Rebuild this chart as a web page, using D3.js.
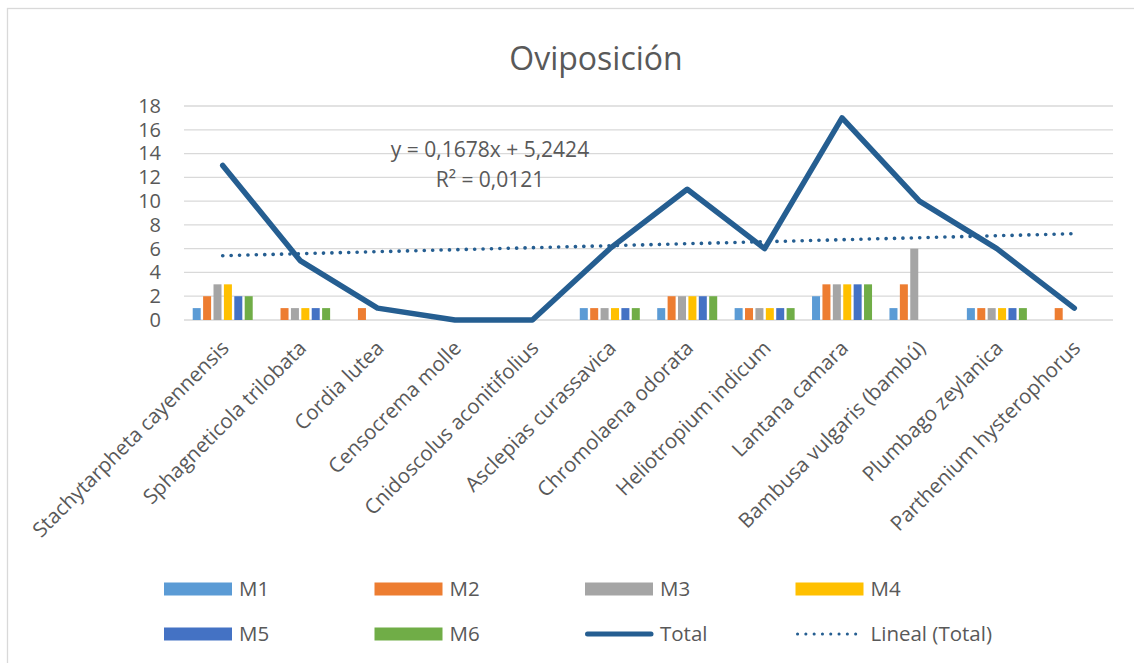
<!DOCTYPE html>
<html>
<head>
<meta charset="utf-8">
<script src="https://cdn.jsdelivr.net/npm/d3@7"></script>
<style>
  html, body { margin: 0; padding: 0; background: #fff; }
  svg { display: block; }
  text { font-family: "Open Sans", "Noto Sans", sans-serif; fill: #595959; }
</style>
</head>
<body>
<svg id="chart" width="1134" height="663"></svg>
<script>
const categories = [
  "Stachytarpheta cayennensis", "Sphagneticola trilobata", "Cordia lutea",
  "Censocrema molle", "Cnidoscolus aconitifolius", "Asclepias curassavica",
  "Chromolaena odorata", "Heliotropium indicum", "Lantana camara",
  "Bambusa vulgaris (bambú)", "Plumbago zeylanica", "Parthenium hysterophorus"
];
const seriesNames = ["M1", "M2", "M3", "M4", "M5", "M6"];
const M1 = [1, 0, 0, 0, 0, 1, 1, 1, 2, 1, 1, 0];
const M2 = [2, 1, 1, 0, 0, 1, 2, 1, 3, 3, 1, 1];
const M3 = [3, 1, 0, 0, 0, 1, 2, 1, 3, 6, 1, 0];
const M4 = [3, 1, 0, 0, 0, 1, 2, 1, 3, 0, 1, 0];
const M5 = [2, 1, 0, 0, 0, 1, 2, 1, 3, 0, 1, 0];
const M6 = [2, 1, 0, 0, 0, 1, 2, 1, 3, 0, 1, 0];
const total = [13, 5, 1, 0, 0, 6, 11, 6, 17, 10, 6, 1];
const trendSlope = 0.1678, trendIntercept = 5.2424;
const yTicks = [0, 2, 4, 6, 8, 10, 12, 14, 16, 18];
const title = "Oviposición";
const eqLine1 = "y = 0,1678x + 5,2424";
const eqLine2 = "R² = 0,0121";
const colors = ["#5b9bd5", "#ed7d31", "#a5a5a5", "#ffc000", "#4472c4", "#70ad47"];
const lineColor = "#255e91";

const seriesValues = [M1, M2, M3, M4, M5, M6];
const svg = d3.select("#chart");

// outer border
svg.append("rect").attr("x", 7.5).attr("y", 8.5).attr("width", 1140).attr("height", 680)
  .attr("fill", "none").attr("stroke", "#d9d9d9").attr("stroke-width", 1.3);

const pLeft = 184, pRight = 1113, pTop = 106, pBottom = 320;
const x = d3.scaleBand().domain(categories).range([pLeft, pRight]).paddingInner(0.225).paddingOuter(0.1125);
const x1 = d3.scaleBand().domain(seriesNames).range([0, x.bandwidth()]).paddingInner(0.23).paddingOuter(0);
const y = d3.scaleLinear().domain([0, 18]).range([pBottom, pTop]);
const cx = c => x(c) + x.bandwidth() / 2;

// gridlines
svg.append("g").selectAll("line").data(yTicks).join("line")
  .attr("x1", pLeft).attr("x2", pRight)
  .attr("y1", d => y(d)).attr("y2", d => y(d))
  .attr("stroke", "#d9d9d9").attr("stroke-width", 1.3);

// y axis labels
const yAxis = d3.axisLeft(y).tickValues(yTicks).tickSize(0).tickPadding(0);
const yg = svg.append("g").attr("transform", `translate(${pLeft - 23},0)`).call(yAxis);
yg.select(".domain").remove();
yg.selectAll("text").attr("font-size", 20).attr("font-family", "Open Sans").attr("fill", "#595959");

// bars
seriesNames.forEach((s, si) => {
  svg.append("g").selectAll("rect").data(categories.map((c, i) => ({c, v: seriesValues[si][i]})).filter(d => d.v > 0))
    .join("rect")
    .attr("x", d => x(d.c) + x1(s))
    .attr("width", x1.bandwidth())
    .attr("y", d => y(d.v))
    .attr("height", d => y(0) - y(d.v))
    .attr("fill", colors[si]);
});

// trendline
const trendData = categories.map((c, i) => ({c, v: trendSlope * (i + 1) + trendIntercept}));
svg.append("path").datum(trendData)
  .attr("d", d3.line().x(d => cx(d.c)).y(d => y(d.v)))
  .attr("fill", "none").attr("stroke", lineColor).attr("stroke-width", 3.6)
  .attr("stroke-linecap", "round").attr("stroke-dasharray", "0.1 8.3");

// total line
svg.append("path").datum(categories.map((c, i) => ({c, v: total[i]})))
  .attr("d", d3.line().x(d => cx(d.c)).y(d => y(d.v)))
  .attr("fill", "none").attr("stroke", lineColor).attr("stroke-width", 5.5)
  .attr("stroke-linejoin", "round").attr("stroke-linecap", "round");

// x labels
const xAxis = d3.axisBottom(x).tickSize(0).tickPadding(0);
const xg = svg.append("g").attr("transform", `translate(0,${pBottom})`).call(xAxis);
xg.select(".domain").remove();
xg.selectAll(".tick text")
  .attr("font-size", 20.5).attr("font-family", "Open Sans").attr("fill", "#595959")
  .attr("text-anchor", "end").attr("x", 0).attr("y", 0).attr("dy", "0.72em")
  .attr("transform", "translate(-3,19) rotate(-45)");

// title
svg.append("text").attr("x", 596).attr("y", 70).attr("text-anchor", "middle")
  .attr("font-size", 32).text(title);

// equation
svg.append("text").attr("x", 490).attr("y", 157).attr("text-anchor", "middle")
  .attr("font-size", 21).text(eqLine1);
svg.append("text").attr("x", 490).attr("y", 187).attr("text-anchor", "middle")
  .attr("font-size", 21).text(eqLine2);

// legend
const legendItems = [
  {name: "M1", type: "rect", color: colors[0]},
  {name: "M2", type: "rect", color: colors[1]},
  {name: "M3", type: "rect", color: colors[2]},
  {name: "M4", type: "rect", color: colors[3]},
  {name: "M5", type: "rect", color: colors[4]},
  {name: "M6", type: "rect", color: colors[5]},
  {name: "Total", type: "line"},
  {name: "Lineal (Total)", type: "dot"}
];
const lg = svg.append("g");
legendItems.forEach((it, i) => {
  const col = i % 4, row = Math.floor(i / 4);
  const lx = 164 + col * 210.5, ly = 589 + row * 45;
  const g = lg.append("g").attr("transform", `translate(${lx},${ly})`);
  if (it.type === "rect") {
    g.append("rect").attr("x", 0).attr("y", -6.5).attr("width", 68).attr("height", 13).attr("fill", it.color);
  } else if (it.type === "line") {
    g.append("line").attr("x1", 2.5).attr("x2", 66).attr("y1", 0).attr("y2", 0)
      .attr("stroke", lineColor).attr("stroke-width", 5).attr("stroke-linecap", "round");
  } else {
    g.append("line").attr("x1", 2).attr("x2", 68).attr("y1", 0).attr("y2", 0)
      .attr("stroke", lineColor).attr("stroke-width", 3).attr("stroke-linecap", "round")
      .attr("stroke-dasharray", "0.1 8.2");
  }
  g.append("text").attr("x", 75).attr("y", 7.3).attr("font-size", 20.5).text(it.name);
});
</script>
</body>
</html>
